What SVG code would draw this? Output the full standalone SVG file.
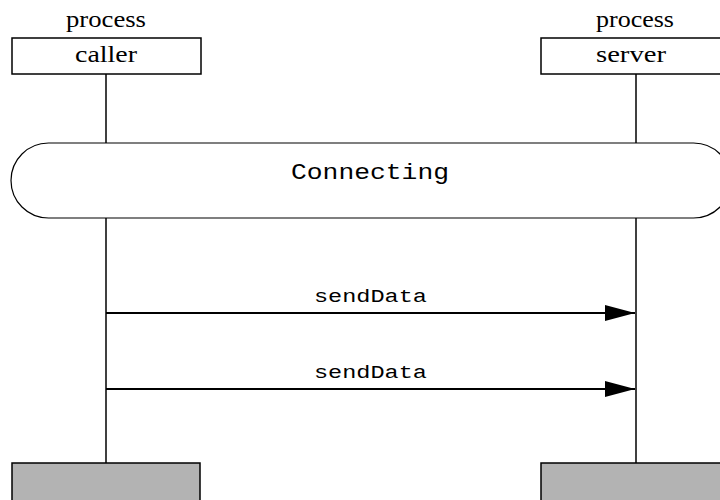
<svg xmlns="http://www.w3.org/2000/svg" width="720" height="500" viewBox="0 0 720 500">
<defs>
<style>
.serif{font-family:"Liberation Serif","Times New Roman",serif;font-size:23px;fill:#000;text-anchor:middle}
.mono{font-family:"Liberation Mono","Courier New",monospace;fill:#000;text-anchor:middle}
.head{fill:#fff;stroke:#000;stroke-width:1.5}
.foot{fill:#b3b3b3;stroke:#000;stroke-width:1.5}
.life{stroke:#000;stroke-width:1.5;fill:none}
.msg{stroke:#000;stroke-width:2;fill:none}
</style>
<marker id="arr" markerUnits="userSpaceOnUse" markerWidth="30" markerHeight="16" refX="30" refY="8" orient="auto">
<path d="M0,0 L30,8 L0,16 Z" fill="#000"/>
</marker>
</defs>
<rect width="720" height="500" fill="#fff"/>
<g id="connectors">
<line class="life" x1="106" y1="74" x2="106" y2="143"/>
<line class="life" x1="106" y1="218" x2="106" y2="463"/>
<line class="life" x1="636" y1="74" x2="636" y2="143"/>
<line class="life" x1="636" y1="218" x2="636" y2="463"/>
<line class="msg" x1="106" y1="313" x2="635" y2="313" marker-end="url(#arr)"/>
<line class="msg" x1="106" y1="389" x2="635" y2="389" marker-end="url(#arr)"/>
<text class="mono" x="370.5" y="302" font-size="18" textLength="113" lengthAdjust="spacingAndGlyphs">sendData</text>
<text class="mono" x="370.5" y="378" font-size="18" textLength="113" lengthAdjust="spacingAndGlyphs">sendData</text>
</g>
<g id="caller">
<text class="serif" x="106" y="27" textLength="80" lengthAdjust="spacingAndGlyphs">process</text>
<rect class="head" x="12" y="38" width="189" height="36"/>
<text class="serif" x="106" y="62" textLength="62" lengthAdjust="spacingAndGlyphs">caller</text>
</g>
<g id="server">
<text class="serif" x="635" y="27" textLength="78" lengthAdjust="spacingAndGlyphs">process</text>
<rect class="head" x="541" y="38" width="189" height="36"/>
<text class="serif" x="631" y="62" textLength="70" lengthAdjust="spacingAndGlyphs">server</text>
</g>
<g id="connecting">
<rect x="11" y="143" width="720" height="75" rx="37.5" ry="37.5" fill="#fff" stroke="#000" stroke-width="1.2"/>
<text class="mono" x="370" y="179" font-size="22" textLength="158" lengthAdjust="spacingAndGlyphs">Connecting</text>
</g>
<g id="caller-end">
<rect class="foot" x="12" y="463" width="188" height="45"/>
</g>
<g id="server-end">
<rect class="foot" x="541" y="463" width="189" height="45"/>
</g>
</svg>
